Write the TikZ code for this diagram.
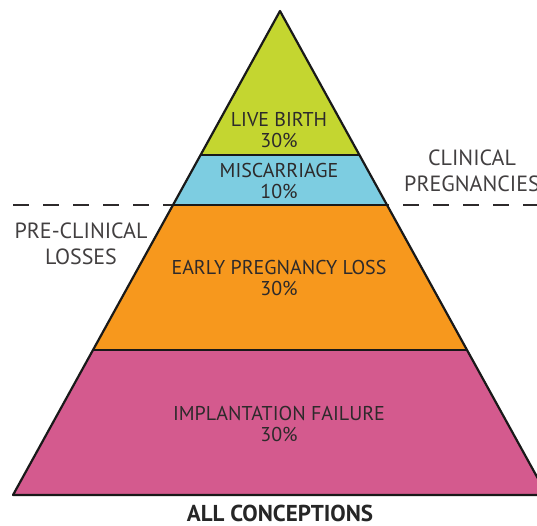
\documentclass[tikz,border=0pt]{standalone}
\usepackage{fontspec}
\setmainfont{PT Sans}
\usepackage{tikz}

\definecolor{livegreen}{RGB}{196,214,48}
\definecolor{miscblue}{RGB}{125,205,225}
\definecolor{lossorange}{RGB}{247,152,29}
\definecolor{failpink}{RGB}{212,90,142}
\definecolor{labelgray}{RGB}{45,42,43}

\begin{document}
\begin{tikzpicture}[x=1pt,y=-1pt,
  layer/.style={align=center,text=labelgray,font=\fontsize{20}{21.5}\selectfont},
  side/.style={align=center,text=labelgray!90,font=\fontsize{22}{26.5}\selectfont},
  edge/.style={draw=black!90,line width=2.2pt,line join=round}]
\useasboundingbox (0,0) rectangle (537,525);
\clip (0,0) rectangle (537,525);
% corners of the pyramid and its layers
\coordinate (apex) at (280,11);
\coordinate (l1) at (200.6,155); \coordinate (r1) at (359.4,155);
\coordinate (l2) at (173.0,205); \coordinate (r2) at (387.0,205);
\coordinate (l3) at (93.0,350);  \coordinate (r3) at (467.0,350);
\coordinate (bl) at (13,495);    \coordinate (br) at (547,495);
% dashed split
\draw[labelgray,line width=2.4pt,dash pattern=on 16pt off 14pt,dash phase=-13pt] (0,205) -- (537,205);
% layers
\fill[livegreen] (apex) -- (r1) -- (l1) -- cycle;
\fill[miscblue] (l1) -- (r1) -- (r2) -- (l2) -- cycle;
\fill[lossorange] (l2) -- (r2) -- (r3) -- (l3) -- cycle;
\fill[failpink] (l3) -- (r3) -- (br) -- (bl) -- cycle;
\draw[edge] (l1) -- (r1) (l2) -- (r2) (l3) -- (r3);
\draw[edge] (apex) -- (br) -- (bl) -- cycle;
% labels
\node[layer] (live) at (279,130) {LIVE BIRTH\\30\%};
\node[layer] (misc) at (279,181) {MISCARRIAGE\\10\%};
\node[layer] (early) at (279,278) {EARLY PREGNANCY LOSS\\30\%};
\node[layer] (impl) at (279,424) {IMPLANTATION FAILURE\\30\%};
\node[side] (pre) at (81,244) {PRE-CLINICAL\\LOSSES};
\node[side] (clin) at (472,171) {CLINICAL\\PREGNANCIES};
\node[text=black!85,font=\fontsize{23}{26}\selectfont\bfseries] (all) at (280,513) {ALL CONCEPTIONS};
\end{tikzpicture}
\end{document}
